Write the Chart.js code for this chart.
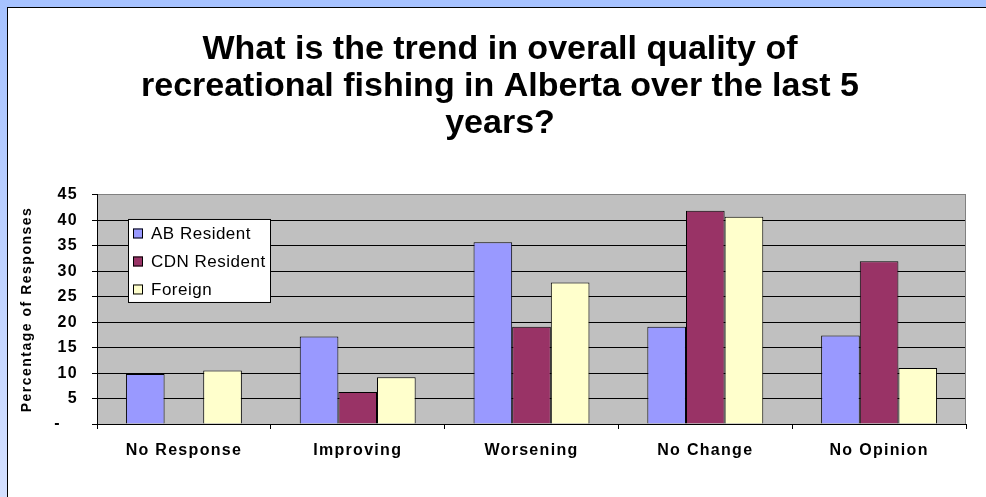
<!DOCTYPE html>
<html>
<head>
<meta charset="utf-8">
<script src="https://cdn.jsdelivr.net/npm/chart.js@4"></script>
<style>
  body { margin: 0; background: #fff; overflow: hidden; }
  #frame { position: absolute; left: 0; top: 0; width: 986px; height: 497px;
           background: linear-gradient(#a6c2ff, #d4e0ff); }
  #inner { position: absolute; left: 7px; top: 7px; width: 1000px; height: 520px;
           background: #fff; border-left: 1px solid #000; border-top: 1px solid #000; }
  #wrap { position: absolute; left: 0; top: 0; width: 986px; height: 497px; }
</style>
</head>
<body>
<div id="frame"><div id="inner"></div></div>
<div id="wrap"><canvas id="myChart"></canvas></div>
<script>
const categories = ['No Response', 'Improving', 'Worsening', 'No Change', 'No Opinion'];
const abResident = [9.8, 17.2, 35.7, 19.1, 17.4];
const cdnResident = [0, 6.3, 19.1, 41.9, 32.0];
const foreign = [10.5, 9.2, 27.8, 40.7, 11.0];
const seriesNames = ['AB Resident', 'CDN Resident', 'Foreign'];
const seriesColors = ['#9999ff', '#993366', '#ffffcc'];

// excel-ish wide letter spacing, picked by font size
const spacing = { '16px': '1.3px', '14px': '1.5px', '17px': '0.5px' };

const textSpacing = {
  id: 'textSpacing',
  beforeInit(chart) {
    const ctx = chart.ctx;
    const fill = ctx.fillText;
    const measure = ctx.measureText;
    const apply = c => {
      const m = c.font.match(/(\d+)px/);
      c.letterSpacing = (m && spacing[m[1] + 'px']) || '0px';
    };
    ctx.fillText = function (...a) { apply(this); return fill.apply(this, a); };
    ctx.measureText = function (t) { apply(this); return measure.call(this, t); };
  },
  afterLayout(chart) {
    // title in the original sits a bit right of the canvas centre
    if (chart.titleBlock) chart.titleBlock.left = 34;
  }
};

const plotBackground = {
  id: 'plotBackground',
  beforeDraw(chart) {
    const { ctx, chartArea: a } = chart;
    ctx.save();
    ctx.fillStyle = '#c0c0c0';
    ctx.fillRect(a.left, a.top, a.right - a.left, a.bottom - a.top);
    ctx.restore();
  },
  afterDatasetsDraw(chart) {
    const { ctx, chartArea: a } = chart;
    ctx.save();
    ctx.strokeStyle = '#808080';
    ctx.lineWidth = 1;
    ctx.beginPath();
    ctx.moveTo(a.right - 0.5, a.top);
    ctx.lineTo(a.right - 0.5, a.bottom);
    ctx.stroke();
    ctx.restore();
  }
};

// legend box sits inside the plot, top-left
const boxLegend = {
  id: 'boxLegend',
  afterDraw(chart) {
    const { ctx, chartArea: a } = chart;
    const x = a.left + 31, y = a.top + 24, w = 142, h = 83;
    ctx.save();
    ctx.fillStyle = '#fff';
    ctx.fillRect(x, y, w, h);
    ctx.strokeStyle = '#000';
    ctx.lineWidth = 1;
    ctx.strokeRect(x + 0.5, y + 0.5, w, h);
    ctx.font = '17px "Liberation Sans", Arial, sans-serif';
    ctx.textBaseline = 'middle';
    chart.data.datasets.forEach((ds, i) => {
      const cy = y + 14.5 + i * 28;
      ctx.fillStyle = ds.backgroundColor;
      ctx.fillRect(x + 5, cy - 5, 10, 10);
      ctx.strokeRect(x + 5.5, cy - 4.5, 9, 9);
      ctx.fillStyle = '#000';
      ctx.fillText(ds.label, x + 23, cy + 1);
    });
    ctx.restore();
  }
};

const datasets = [abResident, cdnResident, foreign].map((values, i) => ({
  label: seriesNames[i],
  data: values,
  backgroundColor: seriesColors[i],
  borderColor: '#000',
  borderWidth: 1,
  categoryPercentage: 0.667,
  barPercentage: 1.0
}));

const ctx = document.getElementById('myChart').getContext('2d');
new Chart(ctx, {
  type: 'bar',
  data: { labels: categories, datasets: datasets },
  plugins: [textSpacing, plotBackground, boxLegend],
  options: {
    responsive: true,
    maintainAspectRatio: false,
    animation: false,
    layout: { padding: { left: 0, right: 20, top: 0, bottom: 0 } },
    scales: {
      x: {
        afterFit: s => { s.height = 73; },
        grid: { offset: true, drawOnChartArea: false, color: '#000', tickLength: 5 },
        border: { color: '#000' },
        ticks: {
          color: '#000',
          padding: 12,
          font: { family: '"Liberation Sans", Arial, sans-serif', size: 16, weight: 'bold' }
        }
      },
      y: {
        min: 0,
        max: 45,
        afterFit: s => { s.width = 97; },
        grid: {
          color: c => (c.tick && c.tick.value === 45 ? '#808080' : '#000'),
          tickColor: '#000',
          tickLength: 5
        },
        border: { color: '#000' },
        ticks: {
          stepSize: 5,
          color: '#000',
          padding: 14,
          font: { family: '"Liberation Sans", Arial, sans-serif', size: 16, weight: 'bold' },
          callback: v => (v === 0 ? '-   ' : v)
        },
        title: {
          display: true,
          text: 'Percentage of Responses',
          color: '#000',
          padding: { top: 19, bottom: 0 },
          font: { family: '"Liberation Sans", Arial, sans-serif', size: 14, weight: 'bold' }
        }
      }
    },
    plugins: {
      legend: { display: false },
      tooltip: { enabled: false },
      title: {
        display: true,
        text: ['What is the trend in overall quality of',
               'recreational fishing in Alberta over the last 5',
               'years?'],
        color: '#000',
        padding: { top: 31, bottom: 53 },
        font: { family: '"Liberation Sans", Arial, sans-serif', size: 34, weight: 'bold', lineHeight: 1.088 }
      }
    }
  }
});
</script>
</body>
</html>
